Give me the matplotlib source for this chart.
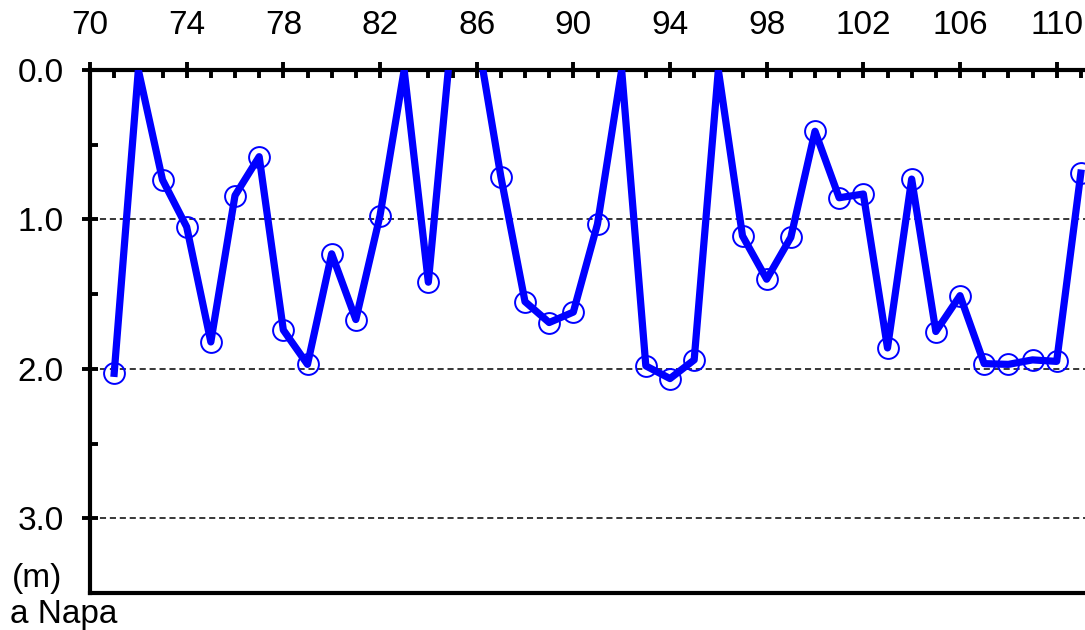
import matplotlib
matplotlib.use("Agg")
import matplotlib.pyplot as plt
from matplotlib.ticker import MultipleLocator, FormatStrFormatter

plt.rcParams['font.family'] = ['Liberation Sans', 'DejaVu Sans']

# depth below reference level (m), one reading per station
stations = list(range(71, 112))
depths = [2.03, 0.0, 0.735, 1.05, 1.82, 0.84, 0.58, 1.74, 1.97, 1.23,
          1.67, 0.975, 0.0, 1.42, -0.3, -0.25, 0.713, 1.55, 1.69, 1.62,
          1.03, 0.0, 1.98, 2.065, 1.94, 0.0, 1.11, 1.40, 1.12, 0.41,
          0.855, 0.83, 1.86, 0.73, 1.75, 1.51, 1.965, 1.97, 1.94, 1.95,
          0.69]
x_ticks = list(range(70, 111, 4))
grid_levels = [1.0, 2.0, 3.0]

blue = '#0000ff'

fig = plt.figure(figsize=(10.85, 6.3), dpi=100)
# axes runs past the right edge of the figure on purpose
ax = fig.add_axes([90 / 1085, 37 / 630, 1015 / 1085, 523 / 630])

for lvl in grid_levels:
    ax.axhline(lvl, color='black', lw=1.1, ls=(0, (4, 2.5)), zorder=1)

# open circles only where a reading was taken (depth > 0)
marked = [i for i, d in enumerate(depths) if d > 0]
ax.plot(stations, depths, ls='none', marker='o', ms=15, mfc='none',
        mec=blue, mew=1.4, markevery=marked, zorder=2)
ax.plot(stations, depths, color=blue, lw=5.2, zorder=3)

ax.set_xlim(70, 112)
ax.set_ylim(3.5, 0)

ax.xaxis.tick_top()
ax.set_xticks(x_ticks)
ax.xaxis.set_minor_locator(MultipleLocator(1))
ax.yaxis.set_major_locator(MultipleLocator(1))
ax.yaxis.set_minor_locator(MultipleLocator(0.5))
ax.yaxis.set_major_formatter(FormatStrFormatter('%.1f'))

ax.tick_params(which='major', direction='inout', length=12, width=2.8,
               labelsize=24, color='black')
ax.tick_params(which='minor', direction='in', length=5.5, width=2.8)
ax.tick_params(axis='x', which='major', pad=15)
ax.tick_params(axis='y', which='major', pad=13)
ax.tick_params(axis='y', which='both', right=False)
ax.tick_params(axis='x', which='both', bottom=False)

for side in ['left', 'top', 'bottom']:
    ax.spines[side].set_linewidth(3)
ax.spines['right'].set_visible(False)

fig.text(12 / 1085, 1 - 579 / 630, '(m)', fontsize=24, va='center', ha='left')
fig.text(10 / 1085, 1 - 614 / 630, 'a Napa', fontsize=24, va='center', ha='left')

fig.savefig('out.png', dpi=100)
